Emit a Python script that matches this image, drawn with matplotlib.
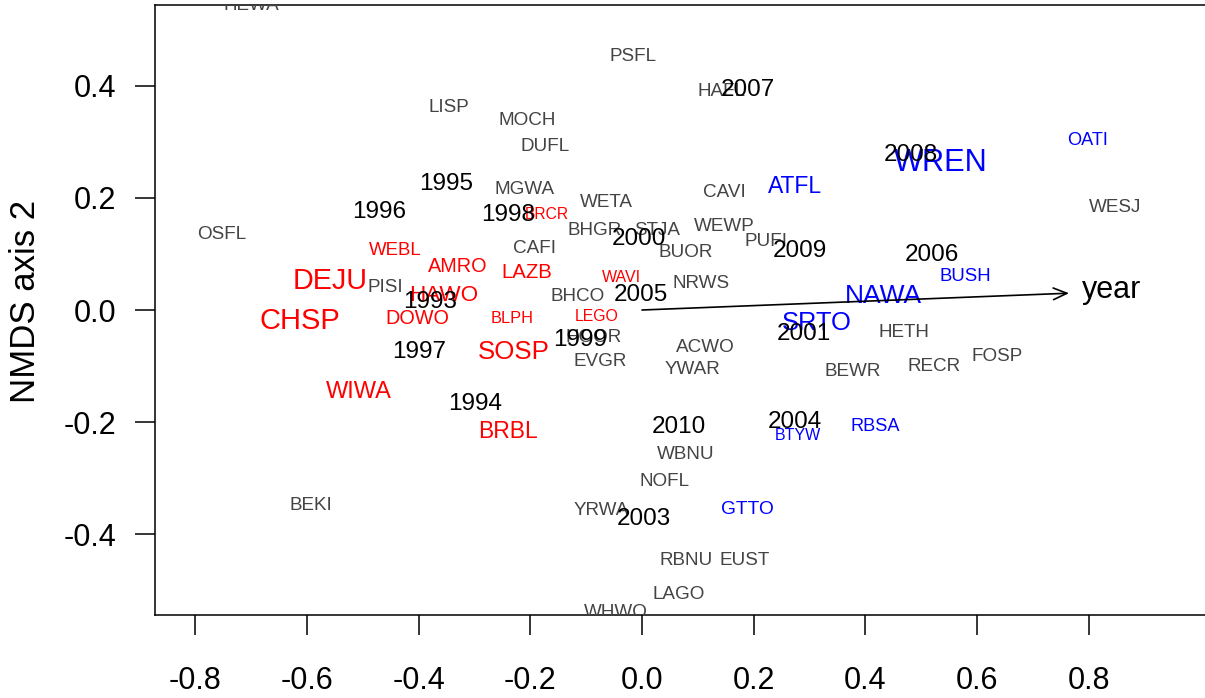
import matplotlib
matplotlib.use("Agg")
import matplotlib.pyplot as plt

plt.rcParams["font.family"] = ["Liberation Sans", "DejaVu Sans"]

# -----------------------------------------------------------------------------
# NMDS scores (axis 1, axis 2)
# -----------------------------------------------------------------------------
# species that show no trend
other_sp = ["HEWA", "OSFL", "LISP", "MOCH", "DUFL", "PSFL", "HAFL", "MGWA",
            "WETA", "CAVI", "BHGR", "STJA", "WEWP", "PUFI", "CAFI", "BUOR",
            "NRWS", "PISI", "BHCO", "HOOR", "EVGR", "ACWO", "YWAR", "BEWR",
            "HETH", "RECR", "FOSP", "WESJ", "BEKI", "YRWA", "WBNU", "NOFL",
            "RBNU", "EUST", "LAGO", "WHWO"]
other_x = [-0.699, -0.752, -0.346, -0.206, -0.174, -0.016, 0.143, -0.210,
           -0.064, 0.147, -0.084, 0.027, 0.147, 0.222, -0.192, 0.079,
           0.106, -0.459, -0.116, -0.086, -0.075, 0.113, 0.091, 0.378,
           0.469, 0.523, 0.636, 0.847, -0.593, -0.073, 0.079, 0.041,
           0.079, 0.183, 0.066, -0.047]
other_y = [0.548, 0.139, 0.366, 0.342, 0.296, 0.457, 0.393, 0.218,
           0.196, 0.214, 0.145, 0.145, 0.152, 0.125, 0.114, 0.107,
           0.050, 0.043, 0.027, -0.046, -0.089, -0.063, -0.102, -0.107,
           -0.036, -0.098, -0.080, 0.186, -0.346, -0.355, -0.255, -0.302,
           -0.443, -0.443, -0.504, -0.536]

# declining species (red), label scaled by strength
decl_sp = ["WEBL", "AMRO", "LAZB", "WAVI", "DEJU", "HAWO", "CHSP", "DOWO",
           "BLPH", "LEGO", "SOSP", "WIWA", "BRBL", "BRCR"]
decl_x = [-0.442, -0.330, -0.206, -0.036, -0.559, -0.356, -0.613, -0.403,
          -0.233, -0.081, -0.229, -0.507, -0.240, -0.170]
decl_y = [0.109, 0.081, 0.070, 0.060, 0.057, 0.030, -0.014, -0.011,
          -0.013, -0.009, -0.071, -0.142, -0.213, 0.174]
decl_cex = [0.99, 1.05, 1.08, 0.85, 1.52, 1.19, 1.54, 1.05,
            0.87, 0.84, 1.37, 1.25, 1.21, 0.83]

# increasing species (blue)
incr_sp = ["ATFL", "WREN", "OATI", "BUSH", "NAWA", "SRTO", "RBSA", "BTYW",
           "GTTO"]
incr_x = [0.274, 0.536, 0.799, 0.580, 0.433, 0.313, 0.417, 0.279, 0.188]
incr_y = [0.225, 0.268, 0.306, 0.063, 0.029, -0.019, -0.205, -0.221,
          -0.353]
incr_cex = [1.21, 1.63, 0.96, 0.99, 1.40, 1.35, 0.96, 0.85, 1.01]

# survey years
years = ["1993", "1994", "1995", "1996", "1997", "1998", "1999", "2000",
         "2001", "2003", "2004", "2005", "2006", "2007", "2008", "2009",
         "2010"]
year_x = [-0.380, -0.299, -0.351, -0.471, -0.399, -0.239, -0.111, -0.005,
          0.290, 0.004, 0.274, -0.002, 0.519, 0.190, 0.482, 0.283, 0.066]
year_y = [0.018, -0.164, 0.230, 0.179, -0.071, 0.174, -0.049, 0.131,
          -0.038, -0.368, -0.196, 0.032, 0.103, 0.398, 0.282, 0.109,
          -0.205]

# fitted year vector (envfit)
vec_x, vec_y = 0.765, 0.030
vec_label_x, vec_label_y = 0.842, 0.042

# -----------------------------------------------------------------------------
# Plot
# -----------------------------------------------------------------------------
base = 13.6  # pt for cex = 1
fig = plt.figure(figsize=(12.05, 6.98), dpi=100)
ax = fig.add_axes([155 / 1205, 83 / 698, 0.8906, 610 / 698])
ax.set_xlim(-0.8723, 1.05)
ax.set_ylim(-0.5446, 0.5446)

txt = dict(ha="center", va="center_baseline", clip_on=True)
for s, x, y in zip(other_sp, other_x, other_y):
    ax.text(x, y, s, color="#444444", fontsize=base, **txt)
for s, x, y, c in zip(decl_sp, decl_x, decl_y, decl_cex):
    ax.text(x, y, s, color="red", fontsize=base * c, **txt)
for s, x, y, c in zip(incr_sp, incr_x, incr_y, incr_cex):
    ax.text(x, y, s, color="blue", fontsize=base * c, **txt)

ax.annotate("", xy=(vec_x, vec_y), xytext=(0, 0),
            arrowprops=dict(arrowstyle="->,head_length=0.7,head_width=0.3",
                            lw=1.2, color="black", shrinkA=0, shrinkB=0,
                            mutation_scale=14))
ax.text(vec_label_x, vec_label_y, "year", fontsize=22, **txt)

for s, x, y in zip(years, year_x, year_y):
    ax.text(x, y, s, color="black", fontsize=17.5, **txt)

# axes, R style
xt = [-0.8, -0.6, -0.4, -0.2, 0.0, 0.2, 0.4, 0.6, 0.8]
yt = [-0.4, -0.2, 0.0, 0.2, 0.4]
ax.set_xticks(xt)
ax.set_xticklabels([f"{v:.1f}".replace("-0.0", "0.0") for v in xt])
ax.set_yticks(yt)
ax.set_yticklabels([f"{v:.1f}".replace("-0.0", "0.0") for v in yt])
ax.tick_params(axis="x", length=14.4, width=1.1, labelsize=22, pad=22)
ax.tick_params(axis="y", length=14.4, width=1.1, labelsize=22, pad=13.5)
for sp in ax.spines.values():
    sp.set_linewidth(1.1)

fig.text(25.5 / 1205, 1 - 301 / 698, "NMDS axis 2", rotation=90,
         ha="center", va="center", fontsize=25)

fig.savefig("out.png", dpi=100)
